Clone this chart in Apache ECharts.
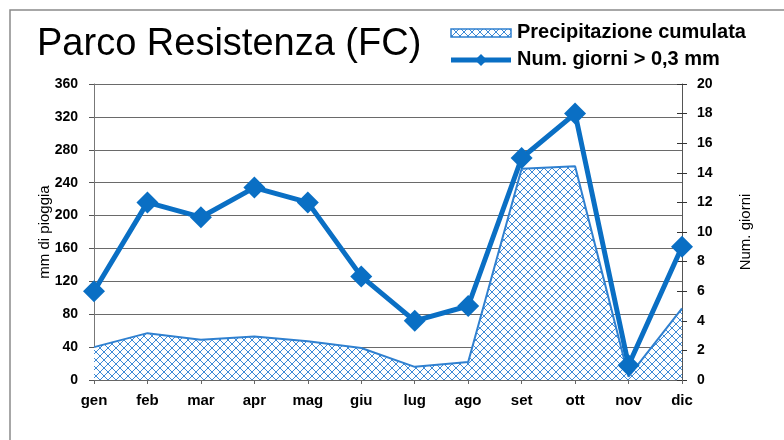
<!DOCTYPE html>
<html>
<head>
<meta charset="utf-8">
<script src="https://cdn.jsdelivr.net/npm/echarts@6/dist/echarts.min.js"></script>
<style>
  html, body { margin: 0; padding: 0; background: #fff; }
  #main { width: 784px; height: 440px; }
</style>
</head>
<body>
<div id="main"></div>
<script>
var mesi = ['gen', 'feb', 'mar', 'apr', 'mag', 'giu', 'lug', 'ago', 'set', 'ott', 'nov', 'dic'];
// mm di pioggia (asse sinistro)
var precipitazione = [40, 57, 49, 53, 47, 39, 16, 22, 257, 260, 4, 87];
// giorni con pioggia > 0,3 mm (asse destro)
var giorni = [6, 12, 11, 13, 12, 7, 4, 5, 15, 18, 1, 9];

var BLU = '#0a6fc4';
var font = 'Arial, "Liberation Sans", sans-serif';

// trama a rete per l'area
function makeHatch() {
    var c = document.createElement('canvas');
    c.width = 8;
    c.height = 8;
    var ctx = c.getContext('2d');
    ctx.fillStyle = '#ffffff';
    ctx.fillRect(0, 0, 8, 8);
    ctx.strokeStyle = '#3d8ad6';
    ctx.lineWidth = 1;
    ctx.beginPath();
    ctx.moveTo(0, 0); ctx.lineTo(8, 8);
    ctx.moveTo(8, 0); ctx.lineTo(0, 8);
    ctx.stroke();
    return c;
}
var hatch = makeHatch();

var chart = echarts.init(document.getElementById('main'));

var option = {
    backgroundColor: '#fff',
    animation: false,
    textStyle: { fontFamily: font },
    grid: { left: 94, right: 102, top: 84, bottom: 60 },
    xAxis: {
        type: 'category',
        data: mesi,
        boundaryGap: false,
        axisLine: { lineStyle: { color: '#666', width: 1 } },
        axisTick: { alignWithLabel: true, length: 4, lineStyle: { color: '#666' } },
        axisLabel: { color: '#000', fontSize: 15, fontWeight: 'bold', margin: 13 }
    },
    yAxis: [
        {
            type: 'value',
            min: 0, max: 360, interval: 40,
            name: 'mm di pioggia',
            nameLocation: 'middle',
            nameGap: 42,
            nameRotate: 90,
            nameMoveOverlap: false,
            nameTextStyle: { color: '#000', fontSize: 15 },
            axisLine: { show: true, lineStyle: { color: '#777' } },
            axisTick: { show: true, length: 5, lineStyle: { color: '#555' } },
            axisLabel: { color: '#000', fontSize: 14, fontWeight: 'bold', margin: 16 },
            splitLine: { lineStyle: { color: '#6a6a6a', width: 1 } }
        },
        {
            type: 'value',
            min: 0, max: 20, interval: 2,
            position: 'right',
            name: 'Num. giorni',
            nameLocation: 'middle',
            nameGap: 56,
            nameRotate: 90,
            nameMoveOverlap: false,
            nameTextStyle: { color: '#000', fontSize: 15 },
            axisLine: { show: true, lineStyle: { color: '#555' } },
            axisTick: { show: true, length: 5, lineStyle: { color: '#333' } },
            axisLabel: { color: '#000', fontSize: 14, fontWeight: 'bold', margin: 15 },
            splitLine: { show: false }
        },
        {
            // solo tacche interne sull'asse destro
            type: 'value',
            min: 0, max: 20, interval: 2,
            position: 'right',
            axisLine: { show: false },
            axisTick: { show: true, inside: true, length: 5, lineStyle: { color: '#333' } },
            axisLabel: { show: false },
            splitLine: { show: false }
        }
    ],
    series: [
        {
            name: 'Precipitazione cumulata',
            type: 'line',
            yAxisIndex: 0,
            data: precipitazione,
            symbol: 'none',
            lineStyle: { color: '#2f80d0', width: 2 },
            areaStyle: { color: { image: hatch, repeat: 'repeat' }, opacity: 1 },
            z: 2
        },
        {
            name: 'Num. giorni > 0,3 mm',
            type: 'line',
            yAxisIndex: 1,
            data: giorni,
            symbol: 'diamond',
            symbolSize: 22,
            lineStyle: { color: BLU, width: 5 },
            itemStyle: { color: BLU },
            z: 3
        }
    ],
    graphic: [
        {
            type: 'rect',
            shape: { x: 10, y: 10, width: 800, height: 460 },
            style: { fill: 'none', stroke: '#8a8a8a', lineWidth: 1.5 },
            silent: true
        },
        {
            type: 'text',
            left: 37, top: 26,
            style: { text: 'Parco Resistenza (FC)', font: '38px ' + font, fill: '#000' }
        },
        {
            type: 'rect',
            shape: { x: 451, y: 29, width: 60, height: 8 },
            style: { fill: { image: hatch, repeat: 'repeat' }, stroke: '#2f80d0', lineWidth: 1.5 }
        },
        {
            type: 'text',
            left: 517, top: 22,
            style: { text: 'Precipitazione cumulata', font: 'bold 20px ' + font, fill: '#000' }
        },
        {
            type: 'line',
            shape: { x1: 451, y1: 60, x2: 511, y2: 60 },
            style: { stroke: BLU, lineWidth: 5 }
        },
        {
            type: 'polygon',
            shape: { points: [[481, 54], [487, 60], [481, 66], [475, 60]] },
            style: { fill: BLU }
        },
        {
            type: 'text',
            left: 517, top: 49,
            style: { text: 'Num. giorni > 0,3 mm', font: 'bold 20px ' + font, fill: '#000' }
        }
    ]
};

chart.setOption(option);
</script>
</body>
</html>
